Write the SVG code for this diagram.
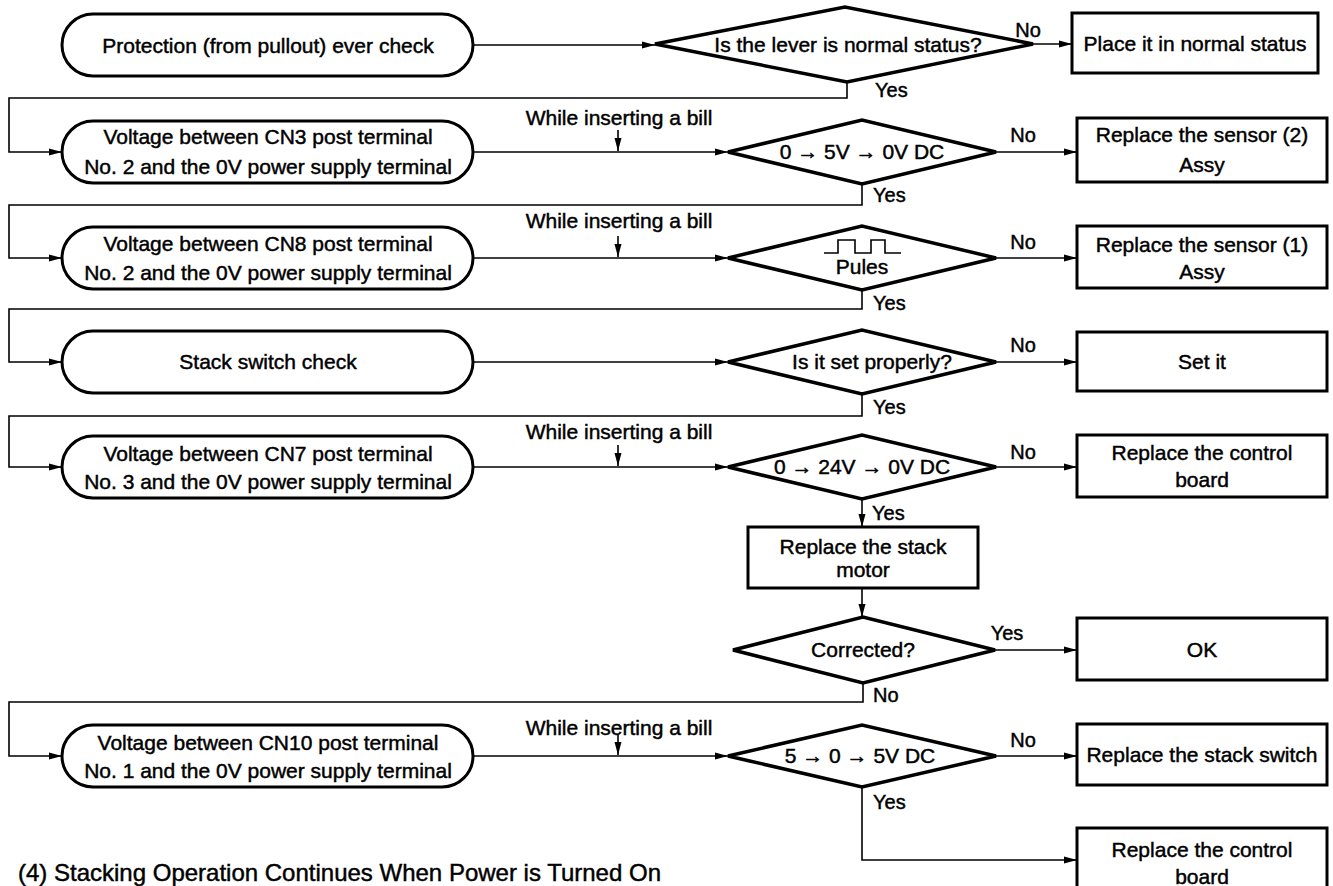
<svg xmlns="http://www.w3.org/2000/svg" width="1333" height="886" viewBox="0 0 1333 886">
<style>
text{font-family:"Liberation Sans",Arial,sans-serif;font-size:21px;fill:#000;stroke:#000;stroke-width:0.45;text-anchor:middle}
.lbl{font-size:20px;text-anchor:start}
.no{font-size:20px}
.term,.box,.dia{fill:#fff;stroke:#000;stroke-width:3}
.dia{stroke-width:3.5}
.con{fill:none;stroke:#000;stroke-width:1.6}
.title{font-size:24px;text-anchor:start}
</style>
<defs>
<marker id="ah" markerUnits="userSpaceOnUse" markerWidth="14" markerHeight="8" refX="13" refY="4" orient="auto">
<path d="M0,0.5 L13,4 L0,7.5 Z" fill="#000"/>
</marker>
</defs>
<rect width="1333" height="886" fill="#fff"/>
<g id="connectors">
<path class="con" d="M473,45 H655" marker-end="url(#ah)"/>
<path class="con" d="M1033,44 H1072" marker-end="url(#ah)"/>
<path class="con" d="M847,82 V98 H9 V152 H62" marker-end="url(#ah)"/>
<path class="con" d="M473,152 H728" marker-end="url(#ah)"/>
<path class="con" d="M618,130 V151" marker-end="url(#ah)"/>
<path class="con" d="M996,152 H1077" marker-end="url(#ah)"/>
<path class="con" d="M862,184 V205 H9 V258 H62" marker-end="url(#ah)"/>
<path class="con" d="M473,258 H728" marker-end="url(#ah)"/>
<path class="con" d="M618,236 V257" marker-end="url(#ah)"/>
<path class="con" d="M996,258 H1077" marker-end="url(#ah)"/>
<path class="con" d="M862,290 V309 H9 V362 H62" marker-end="url(#ah)"/>
<path class="con" d="M473,362 H728" marker-end="url(#ah)"/>
<path class="con" d="M996,362 H1077" marker-end="url(#ah)"/>
<path class="con" d="M862,394 V416 H9 V467 H62" marker-end="url(#ah)"/>
<path class="con" d="M473,467 H728" marker-end="url(#ah)"/>
<path class="con" d="M618,445 V466" marker-end="url(#ah)"/>
<path class="con" d="M996,467 H1077" marker-end="url(#ah)"/>
<path class="con" d="M862,499 V527" marker-end="url(#ah)"/>
<path class="con" d="M862,588 V617" marker-end="url(#ah)"/>
<path class="con" d="M995,650 H1077" marker-end="url(#ah)"/>
<path class="con" d="M863,683 V702 H9 V756 H62" marker-end="url(#ah)"/>
<path class="con" d="M473,756 H728" marker-end="url(#ah)"/>
<path class="con" d="M618,734 V755" marker-end="url(#ah)"/>
<path class="con" d="M996,756 H1077" marker-end="url(#ah)"/>
<path class="con" d="M862,787 V860 H1077" marker-end="url(#ah)"/>
</g>

<g id="t1"><rect class="term" x="62" y="14" width="411" height="62" rx="31"/><text x="268" y="53">Protection (from pullout) ever check</text></g>
<g id="d1"><polygon class="dia" points="655,44 845,7 1033,44 847,82"/><text x="848" y="52">Is the lever is normal status?</text></g>
<g id="b1"><rect class="box" x="1072" y="13" width="246" height="60"/><text x="1195" y="51">Place it in normal status</text></g>
<text class="no" x="1028" y="37">No</text>
<text class="lbl" x="875" y="97">Yes</text>

<g id="t2"><rect class="term" x="62" y="121" width="411" height="62" rx="31"/><text x="268" y="144">Voltage between CN3 post terminal</text><text x="268" y="174">No. 2 and the 0V power supply terminal</text></g>
<text x="619" y="125">While inserting a bill</text>
<g id="d2"><polygon class="dia" points="728,152 862,120 996,152 862,184"/><text x="862" y="159">0 → 5V → 0V DC</text></g>
<g id="b2"><rect class="box" x="1077" y="118" width="250" height="64"/><text x="1202" y="142">Replace the sensor (2)</text><text x="1202" y="172">Assy</text></g>
<text class="no" x="1023" y="142">No</text>
<text class="lbl" x="873" y="202">Yes</text>

<g id="t3"><rect class="term" x="62" y="227" width="411" height="62" rx="31"/><text x="268" y="251">Voltage between CN8 post terminal</text><text x="268" y="280">No. 2 and the 0V power supply terminal</text></g>
<text x="619" y="228">While inserting a bill</text>
<g id="d3"><polygon class="dia" points="728,258 862,226 996,258 862,290"/><path d="M824,253 H838 V240 H855 V253 H871 V240 H885 V253 H901" fill="none" stroke="#000" stroke-width="1.6"/><text x="862" y="274">Pules</text></g>
<g id="b3"><rect class="box" x="1077" y="226" width="250" height="62"/><text x="1202" y="252">Replace the sensor (1)</text><text x="1202" y="279">Assy</text></g>
<text class="no" x="1023" y="249">No</text>
<text class="lbl" x="873" y="310">Yes</text>

<g id="t4"><rect class="term" x="62" y="331" width="411" height="62" rx="31"/><text x="268" y="369">Stack switch check</text></g>
<g id="d4"><polygon class="dia" points="728,362 862,330 996,362 862,394"/><text x="872" y="369">Is it set properly?</text></g>
<g id="b4"><rect class="box" x="1077" y="332" width="250" height="59"/><text x="1202" y="369">Set it</text></g>
<text class="no" x="1023" y="352">No</text>
<text class="lbl" x="873" y="414">Yes</text>

<g id="t5"><rect class="term" x="62" y="436" width="411" height="62" rx="31"/><text x="268" y="461">Voltage between CN7 post terminal</text><text x="268" y="489">No. 3 and the 0V power supply terminal</text></g>
<text x="619" y="439">While inserting a bill</text>
<g id="d5"><polygon class="dia" points="728,467 862,435 996,467 862,499"/><text x="862" y="474">0 → 24V → 0V DC</text></g>
<g id="b5"><rect class="box" x="1077" y="435" width="250" height="62"/><text x="1202" y="460">Replace the control</text><text x="1202" y="487">board</text></g>
<text class="no" x="1023" y="459">No</text>
<text class="lbl" x="872" y="520">Yes</text>

<g id="b6"><rect class="box" x="748" y="527" width="230" height="61"/><text x="863" y="554">Replace the stack</text><text x="863" y="577">motor</text></g>
<g id="d6"><polygon class="dia" points="733,650 863,617 995,650 863,683"/><text x="863" y="657">Corrected?</text></g>
<g id="b7"><rect class="box" x="1077" y="618" width="250" height="62"/><text x="1202" y="657">OK</text></g>
<text class="no" x="1007" y="640">Yes</text>
<text class="lbl" x="873" y="702">No</text>

<g id="t7"><rect class="term" x="62" y="725" width="411" height="62" rx="31"/><text x="268" y="750">Voltage between CN10 post terminal</text><text x="268" y="778">No. 1 and the 0V power supply terminal</text></g>
<text x="619" y="735">While inserting a bill</text>
<g id="d7"><polygon class="dia" points="728,756 862,725 996,756 862,787"/><text x="860" y="763">5 → 0 → 5V DC</text></g>
<g id="b8"><rect class="box" x="1077" y="724" width="250" height="61"/><text x="1202" y="762">Replace the stack switch</text></g>
<text class="no" x="1023" y="747">No</text>
<text class="lbl" x="873" y="809">Yes</text>

<g id="b9"><rect class="box" x="1077" y="828" width="250" height="64"/><text x="1202" y="857">Replace the control</text><text x="1202" y="884">board</text></g>

<text class="title" x="18" y="881">(4) Stacking Operation Continues When Power is Turned On</text>
</svg>
